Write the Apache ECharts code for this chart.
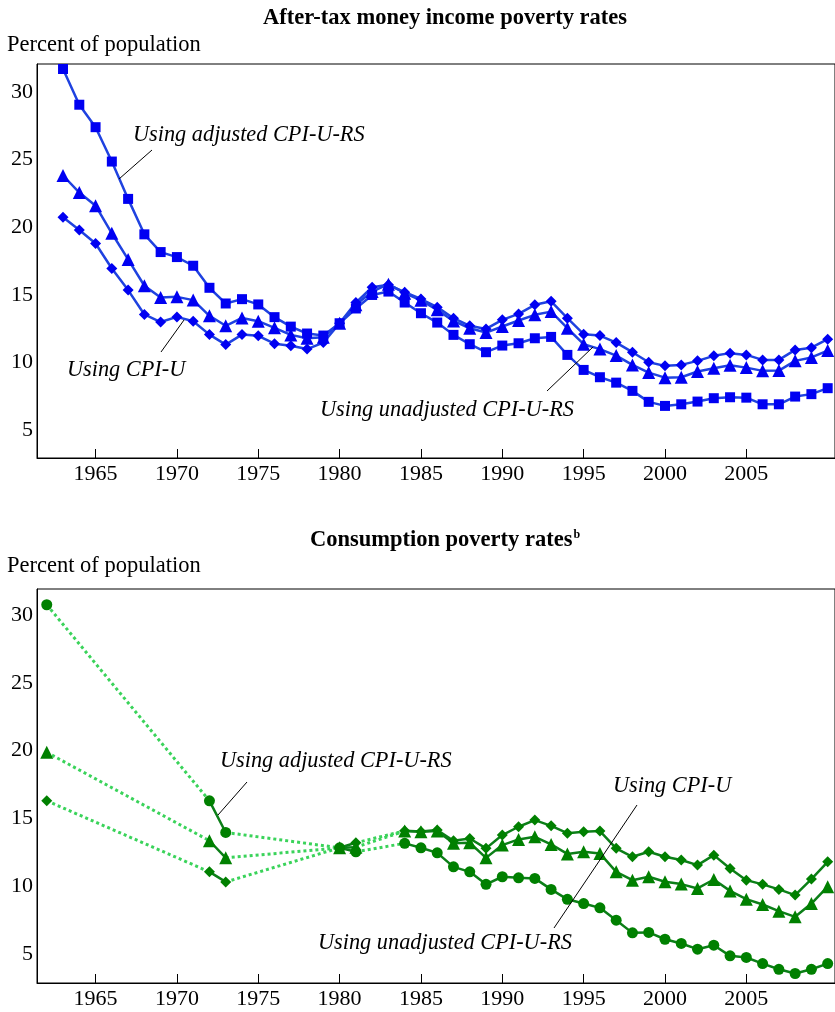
<!DOCTYPE html>
<html>
<head>
<meta charset="utf-8">
<script src="https://cdn.jsdelivr.net/npm/echarts@6/dist/echarts.min.js"></script>
<style>
html,body{margin:0;padding:0;background:#fff;}
#c{width:835px;height:1012px;}
</style>
</head>
<body>
<div id="c"></div>
<script>
// ---------- DATA ----------
const xTicks = [1965, 1970, 1975, 1980, 1985, 1990, 1995, 2000, 2005];
const yTicks = [5, 10, 15, 20, 25, 30];

// After-tax money income poverty rates (1963-2010)
const incomeYears = [1963,1964,1965,1966,1967,1968,1969,1970,1971,1972,1973,1974,1975,1976,1977,1978,1979,1980,1981,1982,1983,1984,1985,1986,1987,1988,1989,1990,1991,1992,1993,1994,1995,1996,1997,1998,1999,2000,2001,2002,2003,2004,2005,2006,2007,2008,2009,2010];
const incomeAdjusted = [31.7,29.06,27.4,24.86,22.1,19.48,18.17,17.8,17.16,15.53,14.37,14.69,14.3,13.36,12.66,12.15,12.0,12.91,14.0,15.0,15.25,14.44,13.65,12.96,12.05,11.36,10.77,11.26,11.43,11.8,11.9,10.57,9.46,8.92,8.52,7.91,7.1,6.8,6.92,7.12,7.37,7.44,7.41,6.92,6.92,7.49,7.67,8.11];
const incomeUnadjusted = [23.83,22.57,21.6,19.56,17.63,15.68,14.81,14.86,14.62,13.46,12.72,13.3,13.06,12.57,12.05,11.8,11.87,12.91,14.27,15.25,15.8,15.13,14.6,13.9,13.08,12.54,12.22,12.67,13.11,13.53,13.77,12.54,11.36,11.0,10.52,9.83,9.26,8.89,8.92,9.34,9.59,9.8,9.63,9.39,9.41,10.13,10.38,10.89];
const incomeCPIU = [20.74,19.8,18.8,16.96,15.36,13.56,13.0,13.38,13.06,12.07,11.33,12.07,11.98,11.4,11.24,11.0,11.48,12.91,14.44,15.57,15.75,15.2,14.7,14.1,13.28,12.72,12.49,13.16,13.6,14.27,14.53,13.28,12.1,12.0,11.48,10.77,10.03,9.76,9.83,10.13,10.5,10.7,10.57,10.2,10.2,10.94,11.1,11.73];

// Consumption poverty rates (years with observations)
const consYears = [1962,1972,1973,1980,1981,1984,1985,1986,1987,1988,1989,1990,1991,1992,1993,1994,1995,1996,1997,1998,1999,2000,2001,2002,2003,2004,2005,2006,2007,2008,2009,2010];
const consAdjusted = [30.74,16.31,13.98,12.85,12.56,13.18,12.85,12.48,11.45,11.08,10.16,10.72,10.64,10.6,9.79,9.06,8.75,8.43,7.52,6.59,6.62,6.12,5.81,5.39,5.68,4.9,4.78,4.33,3.91,3.6,3.91,4.33];
const consUnadjusted = [19.88,13.37,12.11,12.85,12.9,14.08,14.03,14.08,13.18,13.22,12.11,13.05,13.47,13.66,13.1,12.4,12.56,12.44,11.08,10.47,10.72,10.35,10.18,9.86,10.52,9.68,9.07,8.68,8.19,7.77,8.75,9.99];
const consCPIU = [16.31,11.08,10.34,12.85,13.22,14.1,14.05,14.16,13.37,13.54,12.81,13.79,14.4,14.89,14.47,13.93,14.03,14.08,12.81,12.19,12.56,12.19,11.95,11.58,12.31,11.33,10.47,10.16,9.79,9.37,10.55,11.82];

const titleTop = 'After-tax money income poverty rates';
const titleBottom = 'Consumption poverty rates';
const yName = 'Percent of population';

// ---------- HELPERS ----------
function pairs(xs, vs) { return xs.map((x, i) => [x, vs[i]]); }
function solid(xs, vs) {
  const out = [];
  for (let i = 0; i < xs.length; i++) {
    if (i > 0 && xs[i] - xs[i - 1] > 1) out.push([xs[i], null]);
    out.push([xs[i], vs[i]]);
  }
  return out;
}
function bridges(xs, vs) {
  const out = [];
  for (let i = 1; i < xs.length; i++) {
    if (xs[i] - xs[i - 1] > 1) {
      if (out.length) out.push([xs[i - 1], null]);
      out.push([xs[i - 1], vs[i - 1]], [xs[i], vs[i]]);
    }
  }
  return out;
}

const FONT = '"Liberation Serif", "Times New Roman", serif';
const BLUE_LINE = '#1f42e0', BLUE_MARK = '#0000f2';
const GREEN_LINE = '#0c7f18', GREEN_MARK = '#008000', GREEN_DOT = '#3ad35a';

const X_MIN = 1961.4, X_MAX = 2010.45;
const grids = [
  {left: 37, top: 64, width: 801, height: 394},
  {left: 37, top: 589, width: 801, height: 394}
];
const yRanges = [[2.95, 32.07], [2.9, 31.9]];

function xAxis(gi) {
  return {
    type: 'value', gridIndex: gi, min: X_MIN, max: X_MAX,
    axisLine: {show: true, lineStyle: {color: '#000', width: 1}},
    axisTick: {show: true, inside: true, length: 9, customValues: xTicks, lineStyle: {color: '#000'}},
    axisLabel: {customValues: xTicks, formatter: v => String(v), color: '#000', fontFamily: FONT, fontSize: 22, margin: 5},
    splitLine: {show: false}
  };
}
function yAxis(gi) {
  return {
    type: 'value', gridIndex: gi, min: yRanges[gi][0], max: yRanges[gi][1],
    axisLine: {show: true, lineStyle: {color: '#000', width: 1}},
    axisTick: {show: false},
    axisLabel: {customValues: yTicks, formatter: v => String(v), color: '#000', fontFamily: FONT, fontSize: 22, margin: 4},
    splitLine: {show: false}
  };
}

function lineSeries(gi, data, symbol, size, lineColor, markColor) {
  return {
    type: 'line', xAxisIndex: gi, yAxisIndex: gi, data: data,
    symbol: symbol, symbolSize: size, showAllSymbol: true,
    lineStyle: {color: lineColor, width: 2.5},
    itemStyle: {color: markColor},
    connectNulls: false, animation: false, z: 3
  };
}
function dotSeries(gi, data) {
  return {
    type: 'line', xAxisIndex: gi, yAxisIndex: gi, data: data,
    symbol: 'none', lineStyle: {color: GREEN_DOT, width: 3, type: [3, 3]},
    connectNulls: false, animation: false, z: 2
  };
}

const series = [
  lineSeries(0, pairs(incomeYears, incomeAdjusted), 'rect', 10, BLUE_LINE, BLUE_MARK),
  lineSeries(0, pairs(incomeYears, incomeUnadjusted), 'triangle', 13, BLUE_LINE, BLUE_MARK),
  lineSeries(0, pairs(incomeYears, incomeCPIU), 'diamond', 11, BLUE_LINE, BLUE_MARK),
  dotSeries(1, bridges(consYears, consAdjusted)),
  dotSeries(1, bridges(consYears, consUnadjusted)),
  dotSeries(1, bridges(consYears, consCPIU)),
  lineSeries(1, solid(consYears, consAdjusted), 'circle', 11, GREEN_LINE, GREEN_MARK),
  lineSeries(1, solid(consYears, consUnadjusted), 'triangle', 13, GREEN_LINE, GREEN_MARK),
  lineSeries(1, solid(consYears, consCPIU), 'diamond', 11, GREEN_LINE, GREEN_MARK)
];

function txt(x, y, text, opts) {
  return {type: 'text', x: x, y: y, style: Object.assign({
    text: text, fill: '#000', font: '22.5px ' + FONT, textVerticalAlign: 'middle'
  }, opts || {})};
}
function ital(x, y, text) {
  return txt(x, y, text, {font: 'italic 22.3px ' + FONT});
}
function lead(x1, y1, x2, y2) {
  return {type: 'line', shape: {x1: x1, y1: y1, x2: x2, y2: y2}, style: {stroke: '#000', lineWidth: 1}, z: 10};
}

const graphic = [
  txt(445, 18, titleTop, {font: 'bold 22.5px ' + FONT, textAlign: 'center'}),
  txt(7, 45, yName),
  ital(133, 135, 'Using adjusted CPI-U-RS'),
  lead(152, 150, 119, 179),
  ital(67, 370, 'Using CPI-U'),
  lead(161, 352, 184, 320),
  ital(320, 410, 'Using unadjusted CPI-U-RS'),
  lead(547, 391, 593, 347),
  {type: 'text', x: 445, y: 540, style: {
    text: '{t|' + titleBottom + '}{s|b}', textAlign: 'center', textVerticalAlign: 'middle',
    rich: {t: {font: 'bold 22.5px ' + FONT, fill: '#000'}, s: {font: 'bold 12px ' + FONT, fill: '#000', verticalAlign: 'top', padding: [0,0,9,1]}}
  }},
  txt(7, 566, yName),
  ital(220, 761, 'Using adjusted CPI-U-RS'),
  lead(247, 782, 218, 815),
  ital(613, 786, 'Using CPI-U'),
  lead(637, 805, 554, 928),
  ital(318, 943, 'Using unadjusted CPI-U-RS')
];

const chart = echarts.init(document.getElementById('c'), null, {renderer: 'canvas'});
chart.setOption({
  backgroundColor: '#fff',
  animation: false,
  grid: grids.map(g => Object.assign({show: true, borderColor: '#000', borderWidth: 1, backgroundColor: 'transparent'}, g)),
  xAxis: [xAxis(0), xAxis(1)],
  yAxis: [yAxis(0), yAxis(1)],
  series: series,
  graphic: graphic
});
</script>
</body>
</html>
